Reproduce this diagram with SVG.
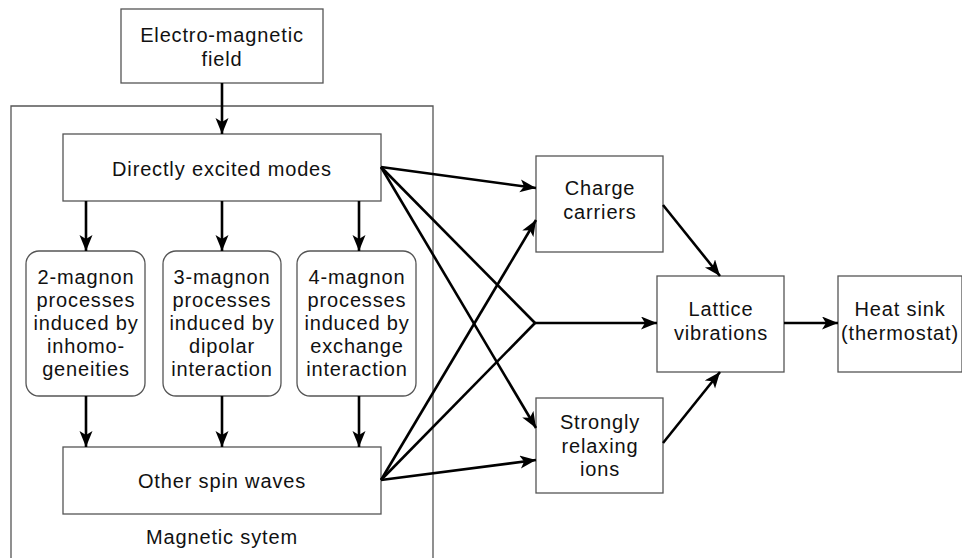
<svg xmlns="http://www.w3.org/2000/svg" width="962" height="558" viewBox="0 0 962 558">
<defs>
<style>
.box{fill:#fff;stroke:#555;stroke-width:1.3}
.frame{fill:none;stroke:#555;stroke-width:1.3}
.t{font-family:"Liberation Sans",Arial,Helvetica,sans-serif;font-size:20px;letter-spacing:0.85px;fill:#111;text-anchor:middle}
.c{fill:none;stroke:#000;stroke-width:2.6}
.a{marker-end:url(#ah)}
</style>
<marker id="ah" markerUnits="userSpaceOnUse" markerWidth="18" markerHeight="14" refX="16" refY="6.5" orient="auto" viewBox="0 0 18 14">
<path d="M0,0 L16,6.5 L0,13 L4,6.5 Z" fill="#000"/>
</marker>
</defs>
<rect width="962" height="558" fill="#fff"/>

<g id="magnetic-system">
<path class="frame" d="M11,560 V106 H433 V560"/>
<text class="t" x="222" y="544">Magnetic sytem</text>
</g>

<g id="em-field">
<rect class="box" x="121" y="9" width="202" height="74"/>
<text class="t" x="222" y="42">Electro-magnetic</text>
<text class="t" x="222" y="66">field</text>
</g>

<g id="directly-excited">
<rect class="box" x="63" y="134" width="318" height="67"/>
<text class="t" x="222" y="176">Directly excited modes</text>
</g>

<g id="two-magnon">
<rect class="box" x="26" y="251" width="119" height="145" rx="13"/>
<text class="t" x="86" y="284">2-magnon</text>
<text class="t" x="86" y="307">processes</text>
<text class="t" x="86" y="330">induced by</text>
<text class="t" x="86" y="352.5">inhomo-</text>
<text class="t" x="86" y="375.5">geneities</text>
</g>

<g id="three-magnon">
<rect class="box" x="163" y="251" width="118" height="145" rx="13"/>
<text class="t" x="222" y="284">3-magnon</text>
<text class="t" x="222" y="307">processes</text>
<text class="t" x="222" y="330">induced by</text>
<text class="t" x="222" y="352.5">dipolar</text>
<text class="t" x="222" y="375.5">interaction</text>
</g>

<g id="four-magnon">
<rect class="box" x="297" y="251" width="119" height="145" rx="13"/>
<text class="t" x="357" y="284">4-magnon</text>
<text class="t" x="357" y="307">processes</text>
<text class="t" x="357" y="330">induced by</text>
<text class="t" x="357" y="352.5">exchange</text>
<text class="t" x="357" y="375.5">interaction</text>
</g>

<g id="other-spin-waves">
<rect class="box" x="63" y="447" width="318" height="67"/>
<text class="t" x="222" y="488">Other spin waves</text>
</g>

<g id="charge-carriers">
<rect class="box" x="536" y="156" width="127" height="96"/>
<text class="t" x="600" y="195">Charge</text>
<text class="t" x="600" y="219">carriers</text>
</g>

<g id="strongly-relaxing">
<rect class="box" x="536" y="398" width="127" height="95"/>
<text class="t" x="600" y="429">Strongly</text>
<text class="t" x="600" y="452.5">relaxing</text>
<text class="t" x="600" y="476">ions</text>
</g>

<g id="lattice">
<rect class="box" x="657" y="276" width="127" height="96"/>
<text class="t" x="721" y="316">Lattice</text>
<text class="t" x="721" y="340">vibrations</text>
</g>

<g id="heat-sink">
<rect class="box" x="838" y="276" width="124" height="96"/>
<text class="t" x="900" y="316">Heat sink</text>
<text class="t" x="900" y="340">(thermostat)</text>
</g>

<g id="connectors">
<line class="c a" x1="222" y1="83" x2="222" y2="134"/>
<line class="c a" x1="86" y1="201" x2="86" y2="251"/>
<line class="c a" x1="222" y1="201" x2="222" y2="251"/>
<line class="c a" x1="359" y1="201" x2="359" y2="251"/>
<line class="c a" x1="86" y1="396" x2="86" y2="447"/>
<line class="c a" x1="222" y1="396" x2="222" y2="447"/>
<line class="c a" x1="359" y1="396" x2="359" y2="447"/>
<line class="c a" x1="381" y1="167" x2="536" y2="188"/>
<line class="c" x1="381" y1="167" x2="535" y2="323"/>
<line class="c a" x1="381" y1="167" x2="536" y2="428"/>
<line class="c a" x1="381" y1="480" x2="536" y2="220"/>
<line class="c" x1="381" y1="480" x2="535" y2="323"/>
<line class="c a" x1="381" y1="480" x2="536" y2="460"/>
<line class="c a" x1="535" y1="323" x2="657" y2="323"/>
<line class="c a" x1="663" y1="205" x2="720" y2="276"/>
<line class="c a" x1="663" y1="443" x2="720" y2="372"/>
<line class="c a" x1="784" y1="323" x2="838" y2="323"/>
</g>
</svg>
